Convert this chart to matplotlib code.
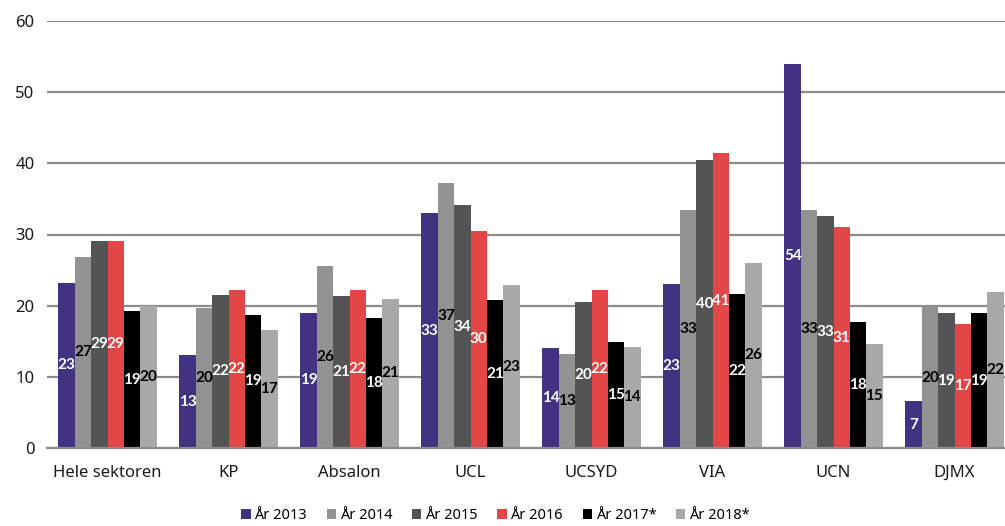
import numpy as np
import matplotlib
matplotlib.use("Agg")
import matplotlib.pyplot as plt

plt.rcParams["font.family"] = ["Noto Sans", "DejaVu Sans"]

# data
groups = ["Hele sektoren", "KP", "Absalon", "UCL", "UCSYD", "VIA", "UCN", "DJMX"]
series = ["År 2013", "År 2014", "År 2015", "År 2016", "År 2017*", "År 2018*"]
y2013 = [23.2, 13.0, 19.0, 33.0, 14.1, 23.1, 54.0, 6.6]
y2014 = [26.9, 19.7, 25.6, 37.2, 13.2, 33.4, 33.4, 19.8]
y2015 = [29.1, 21.5, 21.4, 34.1, 20.5, 40.4, 32.6, 18.9]
y2016 = [29.1, 22.2, 22.2, 30.5, 22.2, 41.4, 31.0, 17.4]
y2017 = [19.2, 18.7, 18.3, 20.8, 14.9, 21.6, 17.7, 18.9]
y2018 = [20.0, 16.6, 21.0, 22.9, 14.2, 26.0, 14.6, 21.9]
values = [y2013, y2014, y2015, y2016, y2017, y2018]

colors = ["#413282", "#929292", "#545454", "#e24646", "#000000", "#a8a8a8"]
label_colors = ["white", "black", "white", "white", "white", "black"]

fig = plt.figure(figsize=(10.05, 5.26), dpi=100)
ax = fig.add_axes([47 / 1005, 78 / 526, 968 / 1005, 427 / 526])

x = np.arange(len(groups))
w = 0.135
for i, (name, vals) in enumerate(zip(series, values)):
    pos = x + (i - 2.5) * w
    ax.bar(pos, vals, w, color=colors[i], label=name, zorder=2, edgecolor="none")
    for xp, v in zip(pos, vals):
        ax.text(xp, v / 2, "%d" % round(v), ha="center", va="center",
                color=label_colors[i], fontsize=11, fontweight="bold",
                family="Lato", zorder=3)

ax.set_xlim(-0.5, 7.5)
ax.set_ylim(0, 60)
ax.set_yticks(np.arange(0, 61, 10))
ax.yaxis.grid(True, color="#8c8c8c", lw=1.6, zorder=0)
ax.set_axisbelow(True)
for s in ["top", "right", "left"]:
    ax.spines[s].set_visible(False)
ax.spines["bottom"].set_color("#8c8c8c")
ax.spines["bottom"].set_linewidth(1.6)
ax.tick_params(length=0, labelsize=12, pad=9, colors="#1a1a1a")
ax.tick_params(axis="x", pad=12)
ax.set_xticks(x)
ax.set_xticklabels(groups)

fig.legend(loc="lower center", bbox_to_anchor=(0.493, -0.02), ncol=6,
           frameon=False, fontsize=10.5, handlelength=0.65, handleheight=0.65,
           handletextpad=0.25, columnspacing=1.35)

fig.savefig("out.png", dpi=100)
